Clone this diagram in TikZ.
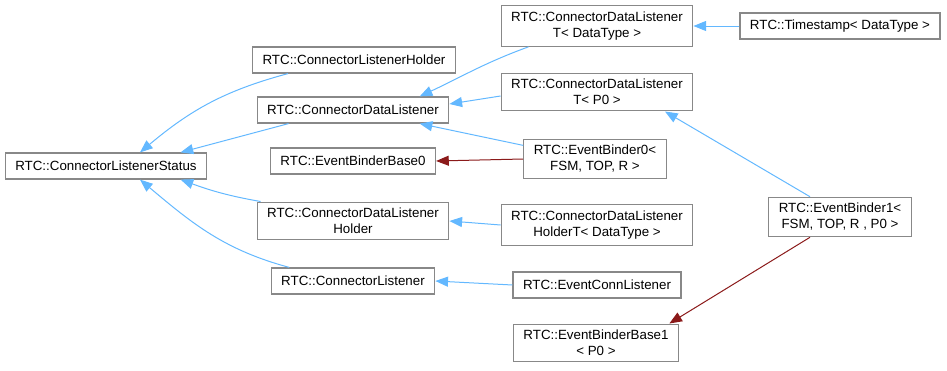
\documentclass[tikz,border=0pt]{standalone}
\usepackage{fontspec}
\setmainfont{Liberation Sans}
\usetikzlibrary{arrows.meta}
\definecolor{edgeC} {RGB}{ 99, 184, 255}
\definecolor{privC} {RGB}{139,  26,  26}
\definecolor{boxC}  {RGB}{136, 136, 136}
\tikzset{
  cls/.style  = {rectangle, draw=boxC, fill=white, line width=0.9pt,
                 align=center, font=\fontsize{10}{12}\selectfont,
                 inner xsep=7.5pt, inner ysep=4.5pt, minimum height=19.5pt},
  inh/.style  = {-{Triangle[length=9.5pt, width=7.5pt]}, line width=0.75pt, color=edgeC},
  priv/.style = {-{Triangle[length=9.5pt, width=7.5pt]}, line width=0.75pt, color=privC},
}

\begin{document}
\begin{tikzpicture}[x=0.75pt, y=0.75pt]
\useasboundingbox (0,0) rectangle (947,-371);

% ---- Nodes ------------------------------------------------------------------
\node[cls] (CLS)   at (106,-166) {RTC::ConnectorListenerStatus};

\node[cls] (CLH)   at (354,-60)  {RTC::ConnectorListenerHolder};
\node[cls] (CDL)   at (353,-110) {RTC::ConnectorDataListener};
\node[cls] (EBB0)  at (353,-161) {RTC::EventBinderBase0};
\node[cls] (CDLH)  at (353,-221) {RTC::ConnectorDataListener\\Holder};
\node[cls] (CL)    at (353,-281) {RTC::ConnectorListener};

\node[cls] (CDLTd) at (597,-26)  {RTC::ConnectorDataListener\\T< DataType >};
\node[cls] (CDLTp) at (597,-92)  {RTC::ConnectorDataListener\\T< P0 >};
\node[cls] (EB0)   at (595,-159) {RTC::EventBinder0<\\ FSM, TOP, R >};
\node[cls] (CDLHT) at (597,-225) {RTC::ConnectorDataListener\\HolderT< DataType >};
\node[cls] (ECL)   at (597,-285) {RTC::EventConnListener};
\node[cls] (EBB1)  at (596,-343) {RTC::EventBinderBase1\\< P0 >};

\node[cls] (TS)    at (840,-26)  {RTC::Timestamp< DataType >};
\node[cls] (EB1)   at (840,-217) {RTC::EventBinder1<\\ FSM, TOP, R , P0 >};

% ---- Arrows into ConnectorListenerStatus ------------------------------------
\draw[inh] ([xshift=27pt]CLH.south west) to[out=195, in=40]  ([xshift=25.5pt]CLS.north);
\draw[inh] ([xshift=24pt]CDL.south west) --                  ([xshift=-20pt]CLS.north east);
\draw[inh] ([xshift=3pt]CDLH.north west) to[out=170, in=-20] ([xshift=-20pt]CLS.south east);
\draw[inh] ([xshift=14pt]CL.north west)  to[out=165, in=-40] ([xshift=25.5pt]CLS.south);

% ---- Arrows into the middle column ------------------------------------------
\draw[inh] ([xshift=21pt]CDLTd.south west) to[out=200, in=25] ([xshift=50pt]CDL.north);
\draw[inh] ([yshift=-3pt]CDLTp.west) -- ([yshift=4.5pt]CDL.east);
\draw[inh] ([yshift=-5pt]EB0.north west) -- ([xshift=50pt]CDL.south);
\draw[priv] (EB0.west) -- (EBB0.east);
\draw[inh] (CDLHT.west) -- (CDLH.east);
\draw[inh] (ECL.west)   -- (CL.east);

% ---- Arrows from the right column -------------------------------------------
\draw[inh]  (TS.west) -- (CDLTd.east);
\draw[inh]  ([xshift=-22.5pt]EB1.north) -- ([xshift=51pt]CDLTp.south);
\draw[priv] ([xshift=-22.5pt]EB1.south) -- ([xshift=55pt]EBB1.north);

\end{tikzpicture}
\end{document}
